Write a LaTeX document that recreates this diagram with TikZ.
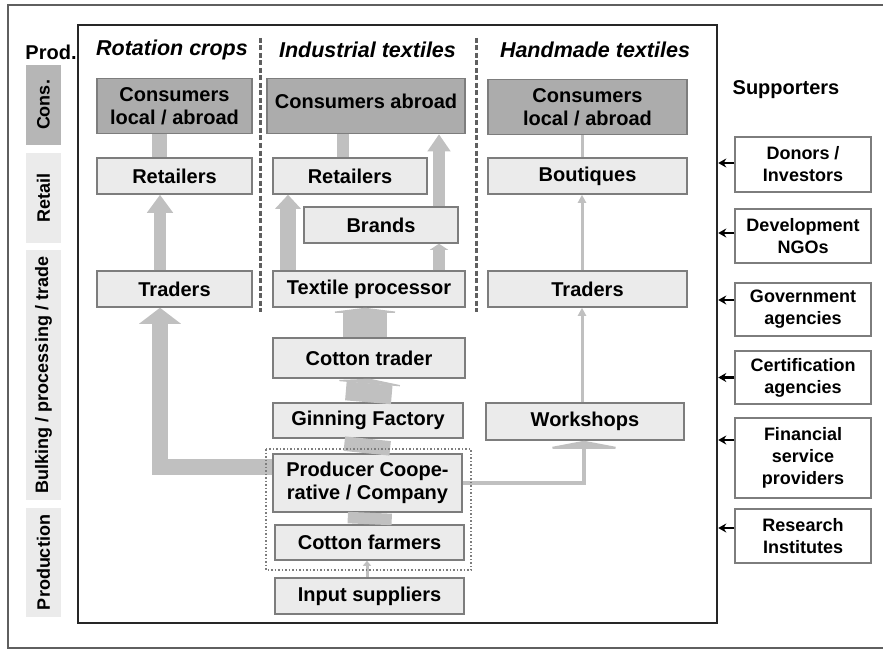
\documentclass[tikz,border=0pt]{standalone}
\usepackage{fontspec}
\setsansfont{Liberation Sans}
\usetikzlibrary{arrows.meta}
\definecolor{boxgray}{RGB}{235,235,235}
\definecolor{darkbox}{RGB}{172,172,172}
\definecolor{consbar}{RGB}{182,182,182}
\definecolor{linegray}{RGB}{125,125,125}
\definecolor{flowgray}{RGB}{192,192,192}
\definecolor{framegray}{RGB}{95,95,95}
\begin{document}
\begin{tikzpicture}[x=1pt,y=-1pt,
  chain box/.style={rectangle,draw=linegray,fill=boxgray,line width=1.5pt,inner sep=0pt,align=center,font=\sffamily\bfseries\fontsize{20}{23}\selectfont},
  cons box/.style={chain box,fill=darkbox},
  sup box/.style={rectangle,draw=linegray,fill=white,line width=1.5pt,inner sep=0pt,align=center,minimum width=136pt,font=\sffamily\bfseries\fontsize{18}{22}\selectfont},
  level bar/.style={rectangle,fill=boxgray,inner sep=0pt,minimum height=35pt,rotate=90,font=\sffamily\bfseries\fontsize{18}{22}\selectfont},
  col head/.style={font=\sffamily\bfseries\itshape\fontsize{21.5}{24}\selectfont},
  col sep/.style={draw=framegray,line width=3pt,dash pattern=on 5pt off 2.5pt},
  flow/.style={draw=flowgray,line width=#1},
  sup arrow/.style={draw=black,line width=2.5pt,-{Stealth[length=8pt,width=9pt]}}]
\useasboundingbox (0,0) rectangle (883,650);
\draw[framegray,line width=2.5pt] (895,5) -- (8,5) -- (8,648) -- (895,648);
\node[draw=black!85,line width=2.5pt,minimum width=639pt,minimum height=598pt,inner sep=0pt] (frame) at (397.5,324) {};
%levels
\node[font=\sffamily\bfseries\fontsize{20}{24}\selectfont] (lprod) at (51,52) {Prod.};
\node[level bar,fill=consbar,minimum width=80pt] (lcons) at (43.5,105) {Cons.};
\node[level bar,minimum width=90pt] (lret) at (43.5,198) {Retail};
\node[level bar,minimum width=250pt] (lbulk) at (43.5,375) {Bulking / processing / trade};
\node[level bar,minimum width=109pt] (lprodn) at (43.5,562.5) {Production};
%columns
\node[col head] (h1) at (172,50) {Rotation crops};
\node[col head] (h2) at (367.5,50) {Industrial textiles};
\node[col head] (h3) at (595,50) {Handmade textiles};
\draw[col sep] (260,38) -- (260,312);
\draw[col sep] (476,38) -- (476,312);
%rotation crops
\node[cons box,minimum width=155pt,minimum height=55pt] (consL) at (174.5,106) {Consumers\\local / abroad};
\node[chain box,minimum width=155pt,minimum height=36pt] (retL) at (174.5,176) {Retailers};
\node[chain box,minimum width=155pt,minimum height=36pt] (tradL) at (174.5,289) {Traders};
%industrial textiles
\node[cons box,minimum width=198pt,minimum height=55pt] (consM) at (366,106) {\raisebox{10pt}{Consumers abroad}};
\node[chain box,minimum width=154pt,minimum height=36pt] (retM) at (350,176) {Retailers};
\node[chain box,minimum width=154pt,minimum height=36pt] (brands) at (381,225) {Brands};
\node[chain box,minimum width=192pt,minimum height=36pt] (texproc) at (369,289) {Textile processor};
\node[chain box,minimum width=192pt,minimum height=40pt] (cottr) at (369,358) {Cotton trader};
\node[chain box,minimum width=190pt,minimum height=35pt] (ginn) at (368,420.5) {Ginning Factory};
\node[chain box,minimum width=189pt,minimum height=58pt] (prod) at (367.5,483) {Producer Coope-\\rative / Company};
\node[chain box,minimum width=189pt,minimum height=35pt] (farm) at (369.5,542.5) {Cotton farmers};
\node[chain box,minimum width=189pt,minimum height=36pt] (input) at (369.5,596) {Input suppliers};
%handmade textiles
\node[cons box,minimum width=199pt,minimum height=55pt] (consR) at (587.5,107) {Consumers\\local / abroad};
\node[chain box,minimum width=199pt,minimum height=36pt] (bout) at (587.5,176) {Boutiques};
\node[chain box,minimum width=199pt,minimum height=36pt] (tradR) at (587.5,289) {Traders};
\node[chain box,minimum width=198pt,minimum height=37pt] (work) at (585,421.5) {Workshops};
%flows
\draw[flow=15pt] ([xshift=-15pt]retL.north) -- ([xshift=-15pt]consL.south);
\draw[flow=12pt,-{Triangle[width=25pt,length=18pt]}] ([xshift=-14.5pt]tradL.north) -- ([xshift=-14.5pt]retL.south);
\draw[flow=16pt,-{Triangle[width=41pt,length=16pt]}] ([yshift=16pt]prod.west) -| ([xshift=-14.5pt]tradL.south);
\draw[flow=16pt,-{Triangle[width=25pt,length=14pt]}] ([xshift=-81pt]texproc.north) -- ([xshift=-62pt]retM.south);
\draw[flow=12pt] ([xshift=-7pt]retM.north) -- ([xshift=-23pt]consM.south);
\draw[flow=12pt,-{Triangle[width=18pt,length=6pt]}] ([xshift=70pt]texproc.north) -- ([xshift=58pt]brands.south);
\draw[flow=12pt,-{Triangle[width=22pt,length=17pt]}] ([xshift=58pt]brands.north) -- ([xshift=73pt]consM.south);
\draw[flow=44pt,-{Triangle[width=80pt,length=5pt]}] ([xshift=-4pt]cottr.north) -- ([xshift=-4pt]texproc.south);
\draw[flow=46pt,-{Triangle[width=81pt,length=5pt]}] (ginn.north) -- ([xshift=1pt]cottr.south);
\draw[flow=46pt] ([xshift=-1pt]prod.north) -- (ginn.south);
\draw[flow=44pt] (farm.north) -- ([xshift=2.5pt]prod.south);
\draw[flow=3pt,-{Triangle[width=8pt,length=5pt]}] ([xshift=-2.5pt]input.north) -- ([xshift=-2.5pt]farm.south);
\draw[flow=4pt,-{Triangle[width=84pt,length=8pt]}] (prod.east) -| ([xshift=-1pt]work.south);
\draw[flow=3pt,-{Triangle[width=8pt,length=8pt]}] ([xshift=-3pt]work.north) -- ([xshift=-5.5pt]tradR.south);
\draw[flow=3pt,-{Triangle[width=8pt,length=8pt]}] ([xshift=-5.5pt]tradR.north) -- ([xshift=-5.5pt]bout.south);
\draw[flow=3pt] ([xshift=-5.5pt]bout.north) -- ([xshift=-5.5pt]consR.south);
\draw[linegray,line width=1.5pt,dotted] (266,449) rectangle (471,570);
%supporters
\node[font=\sffamily\bfseries\fontsize{20}{24}\selectfont] (suplab) at (786,90) {Supporters};
\node[sup box,minimum height=55pt] (don) at (803,164.5) {Donors /\\Investors};
\node[sup box,minimum height=54pt] (ngo) at (803,236) {Development\\NGOs};
\node[sup box,minimum height=53pt] (gov) at (803,309.5) {Government\\agencies};
\node[sup box,minimum height=53pt] (cert) at (803,377.5) {Certification\\agencies};
\node[sup box,minimum height=80pt] (fin) at (803,458) {Financial\\service\\providers};
\node[sup box,minimum height=54pt] (res) at (803,536) {Research\\Institutes};
\coordinate (sdon) at ([yshift=1.5pt]don.west);
\coordinate (sngo) at ([yshift=3pt]ngo.west);
\coordinate (sgov) at ([yshift=9.5pt]gov.west);
\coordinate (scert) at (cert.west);
\coordinate (sfin) at ([yshift=18pt]fin.west);
\coordinate (sres) at ([yshift=8pt]res.west);
\foreach \s in {sdon,sngo,sgov,scert,sfin,sres}
  \draw[sup arrow] (\s) -- (\s -| frame.east);
\end{tikzpicture}
\end{document}
